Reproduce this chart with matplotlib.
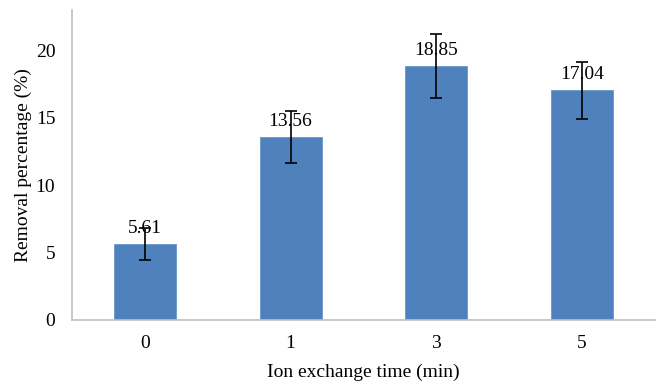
import matplotlib
matplotlib.use("Agg")
import matplotlib.pyplot as plt
import numpy as np

categories = ["0", "1", "3", "5"]
removal = [5.61, 13.56, 18.85, 17.04]
errors = [1.19, 1.93, 2.35, 2.13]

plt.rcParams['font.family'] = ['Liberation Serif', 'DejaVu Serif']

fig = plt.figure(figsize=(6.57, 3.83), dpi=100)
ax = fig.add_axes([0.1096, 0.1645, 0.887, 0.8095])

x = np.arange(len(categories))
ax.bar(x, removal, width=0.425, color="#4F81BD", edgecolor="#6A96CC", linewidth=0.6, zorder=2)
ax.errorbar(x, removal, yerr=errors, fmt="none", ecolor="black", elinewidth=1.2,
            capsize=4.5, capthick=1.2, zorder=3)

for xi, v in zip(x, removal):
    ax.annotate(f"{v:.2f}", (xi, v), xytext=(0, 5), textcoords="offset points",
                ha="center", va="bottom", fontsize=14)

ax.set_xlim(-0.5, 3.5)
ax.set_ylim(0, 23)
ax.set_xticks(x)
ax.set_xticklabels(categories)
ax.set_yticks([0, 5, 10, 15, 20])
ax.tick_params(axis="x", length=0, labelsize=14, pad=11)
ax.tick_params(axis="y", length=0, labelsize=14, pad=12)

for s in ["top", "right"]:
    ax.spines[s].set_visible(False)
for s in ["left", "bottom"]:
    ax.spines[s].set_color("#BFBFBF")
    ax.spines[s].set_linewidth(1.2)

ax.set_xlabel("Ion exchange time (min)", fontsize=14, labelpad=8)
ax.set_ylabel("Removal percentage (%)", fontsize=14, labelpad=3)

fig.savefig("out.png", dpi=100)
